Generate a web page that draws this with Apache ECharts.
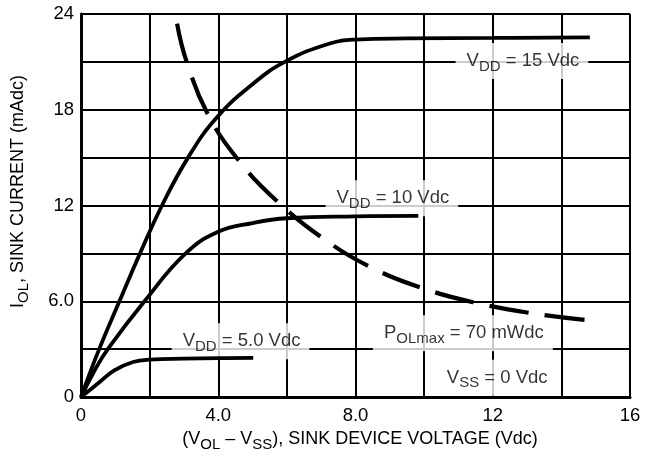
<!DOCTYPE html>
<html>
<head>
<meta charset="utf-8">
<script src="https://cdn.jsdelivr.net/npm/echarts@6/dist/echarts.min.js"></script>
<style>
html,body{margin:0;padding:0;background:#fff;}
#c{width:647px;height:463px;}
</style>
</head>
<body>
<div id="c"></div>
<script>
// ---- data ----
const xTickValues = [0, 4, 8, 12, 16];
const xTickLabels = ['0', '4.0', '8.0', '12', '16'];
const yTickValues = [0, 6, 12, 18, 24];
const yTickLabels = ['0', '6.0', '12', '18', '24'];

const vdd15 = [[0,0],[0.53,3],[1.12,6],[1.72,9],[2.36,12],[3.12,15],[3.95,17.5],[5.0,19.6],[5.94,21],[7.25,22.15],[8,22.4],[9.5,22.47],[12,22.5],[14.83,22.53]];
const vdd10 = [[0,0],[0.38,1.6],[0.78,3],[1.85,6],[3.05,9],[4.0,10.35],[5.0,10.9],[6.0,11.2],[8.0,11.32],[9.83,11.35]];
const vdd5  = [[0,0],[0.49,0.84],[0.97,1.67],[1.52,2.19],[2.0,2.34],[3.0,2.4],[4.0,2.43],[5.02,2.45]];
const polMax = [[2.8,23.4],[3.08,21.0],[3.71,17.66],[4.63,14.73],[5.75,12.2],[7.06,9.93],[8.43,8.15],[9.98,6.8],[11.53,5.89],[13.19,5.23],[14.79,4.81]];

const annoText = ['{m|V}{s|DD}{m| = 15 Vdc}', '{m|V}{s|DD}{m| = 10 Vdc}', '{m|V}{s|DD}{m| = 5.0 Vdc}', '{m|P}{s|OLmax}{m| = 70 mWdc}', '{m|V}{s|SS}{m| = 0 Vdc}'];
const annoAt = [[12.85, 21.05], [9.06, 12.45], [4.65, 3.5], [11.13, 4.0], [12.1, 1.2]];

// ---- style ----
const FONT = '"Liberation Sans", Arial, sans-serif';
const rich = {
  m: {fontSize: 18.5, fontFamily: FONT, color: '#000', lineHeight: 26},
  s: {fontSize: 15, fontFamily: FONT, color: '#000', lineHeight: 15, verticalAlign: 'bottom'}
};
const richTitle = {
  m: {fontSize: 18, fontFamily: FONT, color: '#000', lineHeight: 26},
  s: {fontSize: 15, fontFamily: FONT, color: '#000', lineHeight: 15, verticalAlign: 'bottom'}
};
function lineSeries(d, dashed) {
  return {
    type: 'line', data: d, smooth: 0.45, showSymbol: false, symbol: 'none', z: 3,
    lineStyle: dashed ? {color: '#000', width: 4.2, type: [40, 16]} : {color: '#000', width: 3.8}
  };
}
const chart = echarts.init(document.getElementById('c'), null, {renderer: 'canvas'});
chart.setOption({
  animation: false,
  backgroundColor: '#fff',
  grid: {left: 81, right: 17, top: 14, bottom: 66},
  xAxis: {
    type: 'value', min: 0, max: 16, interval: 2,
    axisLine: {show: true, lineStyle: {color: '#000', width: 3}},
    axisTick: {show: false},
    splitLine: {show: true, lineStyle: {color: '#000', width: 2}},
    axisLabel: {
      margin: 9, color: '#000', fontSize: 18.5, fontFamily: FONT,
      formatter: v => { const i = xTickValues.indexOf(v); return i >= 0 ? xTickLabels[i] : ''; }
    },
    name: '{m|(V}{s|OL}{m| – V}{s|SS}{m|), SINK DEVICE VOLTAGE (Vdc)}',
    nameLocation: 'middle', nameGap: 25,
    nameTextStyle: {rich: richTitle, padding: [0, 0, 0, 9]}
  },
  yAxis: {
    type: 'value', min: 0, max: 24, interval: 3,
    axisLine: {show: true, lineStyle: {color: '#000', width: 3}},
    axisTick: {show: false},
    splitLine: {show: true, lineStyle: {color: '#000', width: 2}},
    axisLabel: {
      margin: 7, color: '#000', fontSize: 18.5, fontFamily: FONT,
      formatter: v => { const i = yTickValues.indexOf(v); return i >= 0 ? yTickLabels[i] : ''; }
    },
    name: '{m|I}{s|OL}{m|, SINK CURRENT (mAdc)}',
    nameLocation: 'middle', nameGap: 50,
    nameTextStyle: {rich: richTitle, padding: [0, 0, 0, 28]}
  },
  series: [
    lineSeries(vdd15, false),
    lineSeries(vdd10, false),
    lineSeries(vdd5, false),
    lineSeries(polMax, true),
    {
      type: 'scatter', z: 1, symbolSize: 0, silent: true,
      data: annoAt.map((p, i) => ({
        value: p,
        label: {
          show: true, position: 'inside', formatter: annoText[i],
          backgroundColor: '#fff', padding: [5, 9, 5, 11], rich: rich
        }
      }))
    }
  ]
});
</script>
</body>
</html>
